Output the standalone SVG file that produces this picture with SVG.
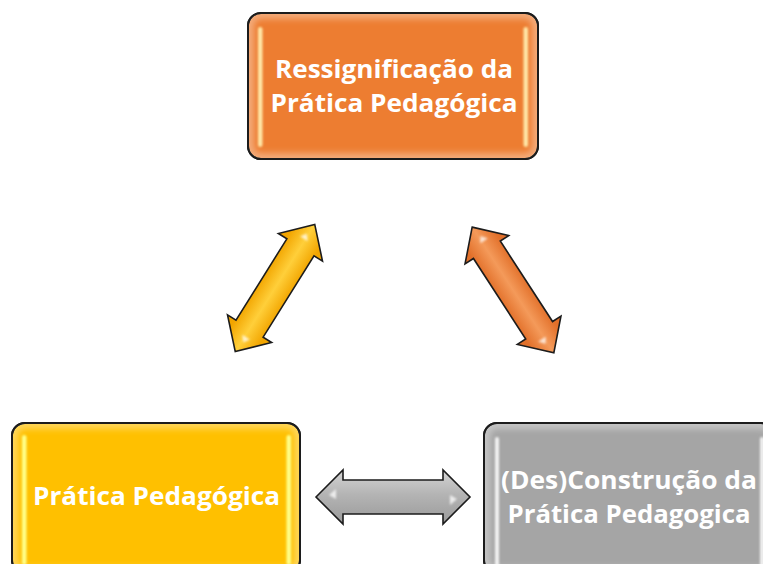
<svg xmlns="http://www.w3.org/2000/svg" width="763" height="564" viewBox="0 0 763 564">
<style>
.box{stroke:#1c1c1c;stroke-width:2}
.arrow{stroke:#1c1c1c;stroke-width:1.6;stroke-linejoin:miter}
.lbl{font-family:"Open Sans","Liberation Sans",sans-serif;font-weight:700;font-size:25.5px;fill:#ffffff;text-anchor:middle}
.glow{fill:none;stroke:#ffffff;stroke-opacity:0.35;stroke-width:12}
.hl{fill:#ffffff;fill-opacity:0.75}
</style>
<defs>
<filter id="blur" x="-20%" y="-20%" width="140%" height="140%"><feGaussianBlur stdDeviation="3"/></filter>
<filter id="soft" x="-100%" y="-20%" width="300%" height="140%"><feGaussianBlur stdDeviation="1.2"/></filter>
<clipPath id="cTop"><rect x="248" y="13" width="290" height="146" rx="13"/></clipPath>
<clipPath id="cLeft"><rect x="12" y="423" width="288" height="150" rx="13"/></clipPath>
<clipPath id="cRight"><rect x="484" y="423" width="290" height="150" rx="13"/></clipPath>
<linearGradient id="gYel" gradientUnits="userSpaceOnUse" x1="0" y1="-17" x2="0" y2="17">
<stop offset="0" stop-color="#F2A500"/><stop offset="0.5" stop-color="#FFCF3A"/><stop offset="1" stop-color="#F2A500"/>
</linearGradient>
<linearGradient id="gOra" gradientUnits="userSpaceOnUse" x1="0" y1="-17" x2="0" y2="17">
<stop offset="0" stop-color="#E2702A"/><stop offset="0.5" stop-color="#F49A5A"/><stop offset="1" stop-color="#E2702A"/>
</linearGradient>
<linearGradient id="gGray" gradientUnits="userSpaceOnUse" x1="0" y1="-27" x2="0" y2="27">
<stop offset="0" stop-color="#d4d4d4"/><stop offset="0.45" stop-color="#b4b4b4"/><stop offset="1" stop-color="#9a9a9a"/>
</linearGradient>
</defs>

<g id="connectors">
  <g id="arrow-left" transform="translate(275,288) rotate(-58)">
    <path class="arrow" fill="url(#gYel)" d="M-75,0 L-48,-26 L-48,-16 L48,-16 L48,-26 L75,0 L48,26 L48,16 L-48,16 L-48,26 Z"/>
    <path class="hl" fill="#fff6b0" filter="url(#soft)" d="M-63,2 L-57,-3 L-57,6 Z"/>
    <path class="hl" fill="#fff6b0" filter="url(#soft)" d="M63,-2 L57,3 L57,-6 Z"/>
  </g>
  <g id="arrow-right" transform="translate(513,290) rotate(57)">
    <path class="arrow" fill="url(#gOra)" d="M-75,0 L-48,-26 L-48,-16 L48,-16 L48,-26 L75,0 L48,26 L48,16 L-48,16 L-48,26 Z"/>
    <path class="hl" fill="#ffe0c0" filter="url(#soft)" d="M-63,-2 L-57,-7 L-57,2 Z"/>
    <path class="hl" fill="#ffe0c0" filter="url(#soft)" d="M63,2 L57,7 L57,-2 Z"/>
  </g>
  <g id="arrow-bottom" transform="translate(393,497)">
    <path class="arrow" fill="url(#gGray)" d="M-77,0 L-50,-27 L-50,-17 L50,-17 L50,-27 L77,0 L50,27 L50,17 L-50,17 L-50,27 Z"/>
    <path class="hl" filter="url(#soft)" d="M-64,-2 L-57,-8 L-57,2 Z"/>
    <path class="hl" filter="url(#soft)" d="M64,2 L57,8 L57,-2 Z"/>
  </g>
</g>

<g id="node-top">
  <rect class="box" x="248" y="13" width="290" height="146" rx="13" fill="#ED7D31"/>
  <rect class="glow" x="248" y="13" width="290" height="146" rx="13" filter="url(#blur)" clip-path="url(#cTop)"/>
  <rect x="258" y="27" width="4.5" height="120" rx="2.2" fill="#FFE6A6" filter="url(#soft)"/>
  <rect x="523.5" y="27" width="4.5" height="120" rx="2.2" fill="#FFE6A6" filter="url(#soft)"/>
  <rect class="box" x="248" y="13" width="290" height="146" rx="13" fill="none"/>
  <text class="lbl" x="394" y="78" textLength="238" lengthAdjust="spacingAndGlyphs">Ressignificação da</text>
  <text class="lbl" x="394" y="112" textLength="247" lengthAdjust="spacingAndGlyphs">Prática Pedagógica</text>
</g>

<g id="node-left">
  <rect class="box" x="12" y="423" width="288" height="150" rx="13" fill="#FFC000"/>
  <rect class="glow" x="12" y="423" width="288" height="150" rx="13" filter="url(#blur)" clip-path="url(#cLeft)"/>
  <rect x="22" y="435" width="4.5" height="130" rx="2.2" fill="#FFFF88" filter="url(#soft)"/>
  <rect x="286.5" y="435" width="4.5" height="130" rx="2.2" fill="#FFFF88" filter="url(#soft)"/>
  <rect class="box" x="12" y="423" width="288" height="150" rx="13" fill="none"/>
  <text class="lbl" x="156.5" y="505" textLength="247" lengthAdjust="spacingAndGlyphs">Prática Pedagógica</text>
</g>

<g id="node-right">
  <rect class="box" x="484" y="423" width="290" height="150" rx="13" fill="#A5A5A5"/>
  <rect class="glow" x="484" y="423" width="290" height="150" rx="13" filter="url(#blur)" clip-path="url(#cRight)"/>
  <rect x="495" y="437" width="4" height="130" rx="2" fill="#F2F2F2" filter="url(#soft)"/>
  <rect x="760" y="437" width="4" height="130" rx="2" fill="#F2F2F2" filter="url(#soft)"/>
  <rect class="box" x="484" y="423" width="290" height="150" rx="13" fill="none"/>
  <text class="lbl" x="629" y="489" textLength="256" lengthAdjust="spacingAndGlyphs">(Des)Construção da</text>
  <text class="lbl" x="629" y="523" textLength="243" lengthAdjust="spacingAndGlyphs">Prática Pedagogica</text>
</g>
</svg>
